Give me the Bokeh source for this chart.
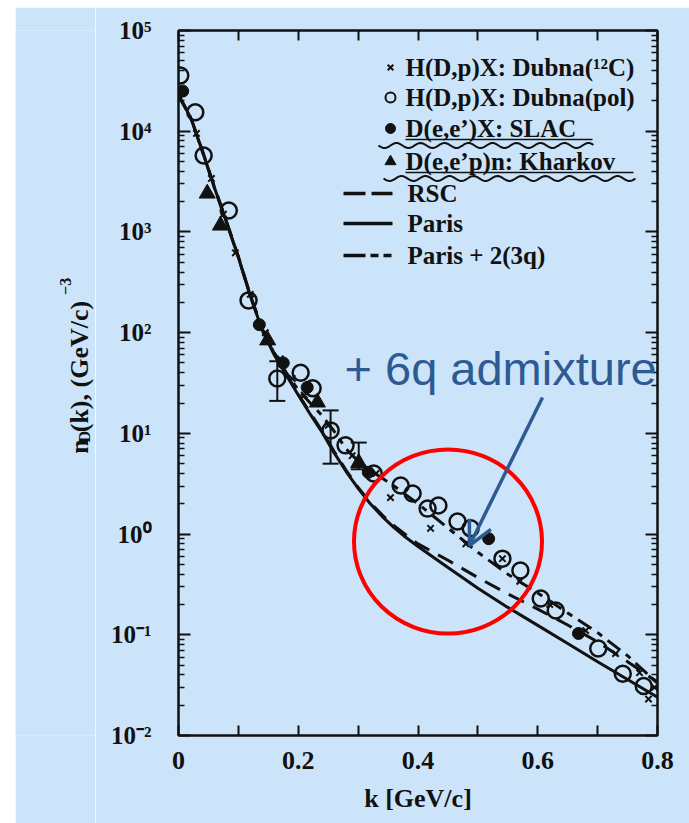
import numpy as np
from bokeh.plotting import figure
from bokeh.models import (Range1d, LogAxis, LinearAxis, FixedTicker, CustomJSTickFormatter,
                          Label, Arrow, OpenHead, Whisker, TeeHead, ColumnDataSource, Spacer)
from bokeh.layouts import row, column
from bokeh.embed import file_html
from bokeh.resources import INLINE
from bokeh.core.properties import value

# ---------------- data ----------------
k_curve = [0.00, 0.02, 0.04, 0.06, 0.08, 0.10, 0.12, 0.14, 0.16, 0.18, 0.20, 0.22, 0.24, 0.26,
           0.28, 0.30, 0.32, 0.34, 0.36, 0.38, 0.40, 0.45, 0.50, 0.55, 0.60, 0.65, 0.70, 0.75, 0.80]
paris = [22600, 13800, 6300, 2750, 1260, 560, 230, 105, 60, 38, 24, 15.5, 10.2, 6.4,
         4.18, 2.84, 2.01, 1.50, 1.16, 0.925, 0.753, 0.466, 0.290, 0.187, 0.124, 0.082, 0.054, 0.036, 0.024]
rsc = [23000, 14000, 6400, 2800, 1280, 570, 235, 108, 62, 39, 24.5, 16, 10.5, 6.6,
       4.3, 2.9, 2.06, 1.55, 1.21, 0.98, 0.80, 0.55, 0.37, 0.255, 0.18, 0.125, 0.085, 0.054, 0.034]
paris_3q = [22600, 13800, 6300, 2750, 1260, 560, 232, 108, 63, 40, 27, 20, 15, 10.5,
            7.0, 5.3, 4.3, 3.6, 3.0, 2.45, 2.0, 1.15, 0.66, 0.40, 0.26, 0.165, 0.105, 0.062, 0.033]

k_pol = [0.003, 0.028, 0.042, 0.084, 0.117, 0.165, 0.204, 0.224, 0.254, 0.279, 0.326, 0.371,
         0.391, 0.416, 0.434, 0.466, 0.488, 0.541, 0.571, 0.605, 0.630, 0.701, 0.742, 0.777]
n_pol = [35800, 15400, 5750, 1630, 209, 35, 40, 28, 10.7, 7.6, 4.0, 3.04,
         2.53, 1.79, 1.92, 1.33, 1.14, 0.57, 0.435, 0.229, 0.174, 0.073, 0.041, 0.031]

k_c12 = [0.030, 0.055, 0.075, 0.095, 0.120, 0.145, 0.170, 0.190, 0.210, 0.250, 0.290, 0.330,
         0.354, 0.421, 0.480, 0.541, 0.570, 0.620, 0.680, 0.730, 0.770, 0.785, 0.795]
n_c12 = [9500, 3400, 1500, 620, 240, 100, 55, 35, 24, 12, 6.0, 4.0,
         2.3, 1.14, 0.8, 0.57, 0.34, 0.2, 0.11, 0.065, 0.042, 0.023, 0.030]

k_slac = [0.007, 0.135, 0.175, 0.215, 0.317, 0.518, 0.668]
n_slac = [25000, 120, 50, 28.6, 4.1, 0.9, 0.103]

k_khar = [0.048, 0.070, 0.149, 0.232, 0.301]
n_khar = [2410, 1160, 84, 20.3, 5.1]

err_k = [0.165, 0.254, 0.301]
err_lo = [21, 5.0, 4.4]
err_hi = [52, 16.9, 8.1]

legend_markers = ["H(D,p)X: Dubna(\u00b9\u00b2C)", "H(D,p)X: Dubna(pol)",
                  "D(e,e\u2019)X: SLAC", "D(e,e\u2019p)n: Kharkov"]
legend_lines = ["RSC", "Paris", "Paris + 2(3q)"]
x_ticks = [0.0, 0.1, 0.2, 0.3, 0.4, 0.5, 0.6, 0.7, 0.8]
y_exponents = [-2, -1, 0, 1, 2, 3, 4, 5]

# ---------------- layout geometry (page pixels) ----------------
BG = "#CBE4F9"
INK = "#111111"
PAGE_W, PAGE_H = 689, 823
OX, OY = 15, 7                 # white page margin (left, top)
TW = 80                        # strip holding the rotated y title
W, H = PAGE_W - OX - TW, PAGE_H - OY
FRAME_L, FRAME_R, FRAME_T, FRAME_B = 178, 657, 30, 735   # frame edges on the page
SERIF = "Liberation Serif"


def kx(px):
    px = np.asarray(px, dtype=float)
    return (px - FRAME_L) / (FRAME_R - FRAME_L) * 0.8


def vy(py):
    py = np.asarray(py, dtype=float)
    return 10 ** (5 - (py - FRAME_T) / (FRAME_B - FRAME_T) * 7)


p = figure(width=W, height=H, x_range=Range1d(0, 0.8), y_range=Range1d(1e-2, 1e5),
           y_axis_type="log", output_backend="svg", toolbar_location=None,
           min_border_left=FRAME_L - OX - TW, min_border_right=PAGE_W - FRAME_R,
           min_border_top=FRAME_T - OY, min_border_bottom=PAGE_H - FRAME_B,
           background_fill_color=BG, border_fill_color=BG)
p.grid.visible = False
p.outline_line_color = INK
p.outline_line_width = 2

y_major = [10.0 ** e for e in y_exponents]
y_minor = [m * 10.0 ** e for e in y_exponents[:-1] for m in range(2, 10)]

sup_js = """
const sup = {"-":"\u207b","0":"\u2070","1":"\u00b9","2":"\u00b2","3":"\u00b3","4":"\u2074",
             "5":"\u2075","6":"\u2076","7":"\u2077","8":"\u2078","9":"\u2079"};
const e = Math.round(Math.log10(tick));
return "10" + String(e).split("").map(c => sup[c]).join("");
"""
x_js = """
const r = Math.round(tick * 10);
if (r % 2 !== 0) return "";
return r === 0 ? "0" : (r / 10).toFixed(1);
"""
blank_js = "return '';"

left = p.yaxis[0]
right = LogAxis()
p.add_layout(right, "right")
bottom = p.xaxis[0]
top = LinearAxis()
p.add_layout(top, "above")

for ax in (left, right):
    ax.ticker = FixedTicker(ticks=y_major, minor_ticks=y_minor)
    ax.major_tick_in = 12
    ax.major_tick_out = 0
    ax.minor_tick_in = 6
    ax.minor_tick_out = 0
    ax.major_tick_line_width = 2
    ax.minor_tick_line_width = 1.5
    ax.axis_line_width = 2
    ax.axis_line_color = INK
    ax.major_tick_line_color = INK
    ax.minor_tick_line_color = INK

for ax in (bottom, top):
    ax.ticker = FixedTicker(ticks=x_ticks)
    ax.major_tick_in = 10
    ax.major_tick_out = 0
    ax.minor_tick_in = 0
    ax.minor_tick_out = 0
    ax.major_tick_line_width = 2
    ax.axis_line_width = 2
    ax.axis_line_color = INK
    ax.major_tick_line_color = INK

left.formatter = CustomJSTickFormatter(code=sup_js)
left.major_label_text_font = SERIF
left.major_label_text_font_style = "bold"
left.major_label_text_font_size = "25px"
left.major_label_text_color = INK
left.major_label_standoff = 27

right.formatter = CustomJSTickFormatter(code=blank_js)
top.formatter = CustomJSTickFormatter(code=blank_js)
right.major_label_text_font_size = "1px"
top.major_label_text_font_size = "1px"

bottom.formatter = CustomJSTickFormatter(code=x_js)
bottom.major_label_text_font = SERIF
bottom.major_label_text_font_style = "bold"
bottom.major_label_text_font_size = "26px"
bottom.major_label_text_color = INK
bottom.major_label_standoff = 16
bottom.axis_label = "k [GeV/c]"
bottom.axis_label_text_font = SERIF
bottom.axis_label_text_font_style = "bold"
bottom.axis_label_text_font_size = "26px"
bottom.axis_label_text_color = INK
bottom.axis_label_standoff = 12

# ---------------- curves ----------------
p.line(k_curve, paris, line_color=INK, line_width=3)
p.line(k_curve, rsc, line_color=INK, line_width=3, line_dash="17 10")
p.line(k_curve, paris_3q, line_color=INK, line_width=3, line_dash="16 7 6 7")

# ---------------- data points ----------------
src_err = ColumnDataSource(dict(k=err_k, lo=err_lo, hi=err_hi))
p.add_layout(Whisker(source=src_err, base="k", lower="lo", upper="hi", dimension="height",
                     line_color=INK, line_width=2,
                     lower_head=TeeHead(size=16, line_width=2, line_color=INK),
                     upper_head=TeeHead(size=16, line_width=2, line_color=INK)))

p.scatter(k_c12, n_c12, marker="x", size=9, line_color=INK, line_width=2)
p.scatter(k_pol, n_pol, marker="circle", size=16, fill_color=None, line_color=INK, line_width=2.5)
p.scatter(k_slac, n_slac, marker="circle", size=12, fill_color=INK, line_color=INK)
p.scatter(k_khar, n_khar, marker="triangle", size=16, fill_color=INK, line_color=INK)

# ---------------- legend (drawn by hand, as in the original) ----------------
rows_y = [67, 97, 128, 161]
mk_x = 390
p.scatter(kx([mk_x]), vy([rows_y[0]]), marker="x", size=8, line_color=INK, line_width=2)
p.scatter(kx([mk_x]), vy([rows_y[1]]), marker="circle", size=10, fill_color=None,
          line_color=INK, line_width=2)
p.scatter(kx([mk_x]), vy([rows_y[2]]), marker="circle", size=10, fill_color=INK, line_color=INK)
p.scatter(kx([mk_x]), vy([rows_y[3]]), marker="triangle", size=11, fill_color=INK, line_color=INK)
for txt, yy in zip(legend_markers, rows_y):
    p.add_layout(Label(x=float(kx(405)), y=float(vy(yy)), text=txt, text_font=SERIF,
                       text_font_style="bold", text_font_size="25px", text_color=INK,
                       text_baseline="middle", text_align="left"))

# underlines (straight + wavy hand marks)
for x0, x1, yl, yw, xw0, xw1 in [(405, 592, 139, 145, 378, 593), (405, 633, 172, 178, 383, 635)]:
    p.line(kx([x0, x1]), vy([yl, yl]), line_color=INK, line_width=1.5)
    xs = np.linspace(xw0, xw1, 160)
    ys = yw + 2.5 * np.sin(2 * np.pi * (xs - xw0) / 24.0)
    p.line(kx(xs), vy(ys), line_color=INK, line_width=2)

line_rows = [193, 223, 255]
dashes = ["22 6", "solid", "22 5 8 5 8"]
for txt, yy, dsh in zip(legend_lines, line_rows, dashes):
    p.line(kx([343, 392]), vy([yy, yy]), line_color=INK, line_width=3.5, line_dash=dsh)
    p.add_layout(Label(x=float(kx(407)), y=float(vy(yy)), text=txt, text_font=SERIF,
                       text_font_style="bold", text_font_size="25px", text_color=INK,
                       text_baseline="middle", text_align="left"))

# ---------------- overlay annotation: red circle, arrow, text ----------------
p.ellipse(x=kx([447.5]), y=vy([541]), width=188, height=184, width_units="screen",
          height_units="screen", fill_color=None, line_color="#FF0000", line_width=4)

BLUE = "#2E5A94"
p.add_layout(Arrow(end=OpenHead(size=24, line_color=BLUE, line_width=3.5),
                   x_start=float(kx(542)), y_start=float(vy(397)),
                   x_end=float(kx(469)), y_end=float(vy(545)),
                   line_color=BLUE, line_width=3.5))
p.add_layout(Label(x=float(kx(344)), y=float(vy(368)), text="+ 6q admixture",
                   text_font="Liberation Sans", text_font_size="47px", text_color=BLUE,
                   text_baseline="middle", text_align="left"))

# ---------------- rotated y-axis title strip: n_D(k), (GeV/c)^-3 ----------------
t = figure(width=TW, height=H, x_range=Range1d(OX, OX + TW), y_range=Range1d(0, H),
           output_backend="svg", toolbar_location=None, x_axis_location=None,
           y_axis_location=None, min_border=0, background_fill_color=BG,
           border_fill_color=BG, outline_line_color=None)
t.grid.visible = False
base_x = 79
pieces = [("n", base_x, 497, "26px"),
          ("D", base_x + 5, 484, "16px"),
          ("(k), (GeV/c)", base_x, 472, "26px"),
          ("\u22123", base_x - 14, 313, "16px")]
for txt, bx, by, fs in pieces:
    t.text(x=[bx], y=[PAGE_H - by], text=[txt], angle=np.pi / 2, text_font=value(SERIF),
           text_font_style="bold", text_font_size=value(fs), text_color=INK,
           text_baseline="alphabetic", text_align="left")

layout = row(Spacer(width=OX, height=PAGE_H),
             column(Spacer(width=PAGE_W - OX, height=OY), row(t, p)))
open("out.html", "w", encoding="utf-8").write(file_html(layout, INLINE))
